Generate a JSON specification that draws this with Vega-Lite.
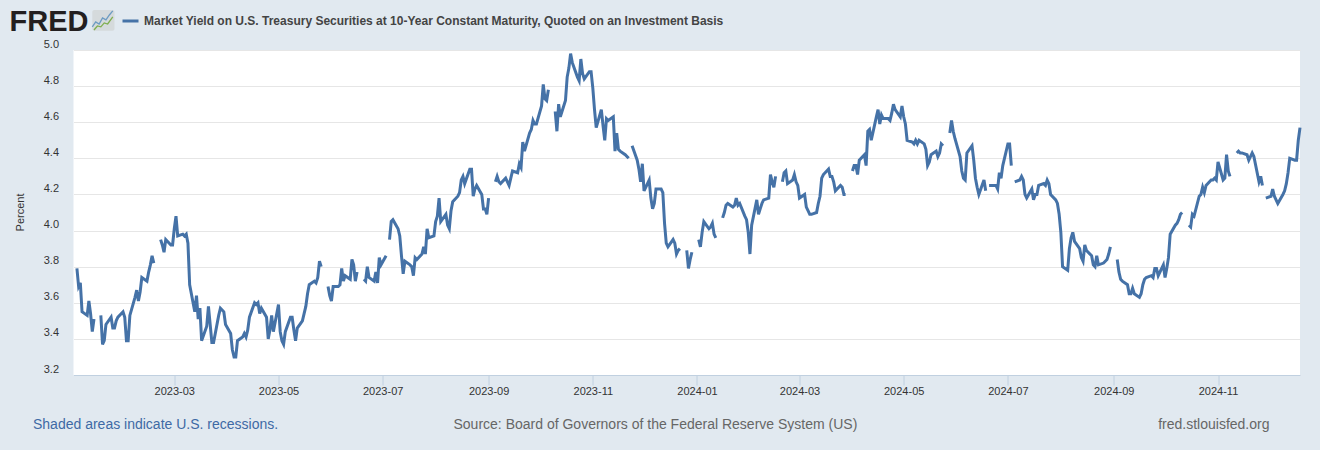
{"$schema":"https://vega.github.io/schema/vega-lite/v6.json","autosize":{"type":"none"},"padding":{"left":73.5,"top":50,"right":20,"bottom":75},"width":1226.5,"height":325,"background":"#e1e9f0","view":{"fill":"#ffffff","stroke":null},
"title":{"text":"FRED","anchor":"start","frame":"group","font":"Liberation Sans","fontSize":29,"fontWeight":"bold","color":"#231f20","dx":-64,"dy":52,"offset":0,"baseline":"alphabetic"},
"data":{"values":[
{"date":"2023-01-03","y":3.79},{"date":"2023-01-04","y":3.69},{"date":"2023-01-05","y":3.71},{"date":"2023-01-06","y":3.55},{"date":"2023-01-09","y":3.53},{"date":"2023-01-10","y":3.61},{"date":"2023-01-11","y":3.54},{"date":"2023-01-12","y":3.44},{"date":"2023-01-13","y":3.51},{"date":"2023-01-16","y":null},{"date":"2023-01-17","y":3.53},{"date":"2023-01-18","y":3.37},{"date":"2023-01-19","y":3.39},{"date":"2023-01-20","y":3.48},{"date":"2023-01-23","y":3.52},{"date":"2023-01-24","y":3.46},{"date":"2023-01-25","y":3.46},{"date":"2023-01-26","y":3.50},{"date":"2023-01-27","y":3.52},{"date":"2023-01-30","y":3.55},{"date":"2023-01-31","y":3.52},
{"date":"2023-02-01","y":3.39},{"date":"2023-02-02","y":3.39},{"date":"2023-02-03","y":3.53},{"date":"2023-02-06","y":3.63},{"date":"2023-02-07","y":3.67},{"date":"2023-02-08","y":3.61},{"date":"2023-02-09","y":3.66},{"date":"2023-02-10","y":3.74},{"date":"2023-02-13","y":3.72},{"date":"2023-02-14","y":3.77},{"date":"2023-02-15","y":3.81},{"date":"2023-02-16","y":3.86},{"date":"2023-02-17","y":3.82},{"date":"2023-02-20","y":null},{"date":"2023-02-21","y":3.95},{"date":"2023-02-22","y":3.92},{"date":"2023-02-23","y":3.88},{"date":"2023-02-24","y":3.95},{"date":"2023-02-27","y":3.92},{"date":"2023-02-28","y":3.92},
{"date":"2023-03-01","y":4.01},{"date":"2023-03-02","y":4.08},{"date":"2023-03-03","y":3.97},{"date":"2023-03-06","y":3.98},{"date":"2023-03-07","y":3.97},{"date":"2023-03-08","y":3.98},{"date":"2023-03-09","y":3.93},{"date":"2023-03-10","y":3.70},{"date":"2023-03-13","y":3.55},{"date":"2023-03-14","y":3.64},{"date":"2023-03-15","y":3.51},{"date":"2023-03-16","y":3.57},{"date":"2023-03-17","y":3.39},{"date":"2023-03-20","y":3.47},{"date":"2023-03-21","y":3.58},{"date":"2023-03-22","y":3.48},{"date":"2023-03-23","y":3.38},{"date":"2023-03-24","y":3.38},{"date":"2023-03-27","y":3.53},{"date":"2023-03-28","y":3.57},{"date":"2023-03-29","y":3.56},{"date":"2023-03-30","y":3.55},{"date":"2023-03-31","y":3.48},
{"date":"2023-04-03","y":3.43},{"date":"2023-04-04","y":3.34},{"date":"2023-04-05","y":3.30},{"date":"2023-04-06","y":3.30},{"date":"2023-04-07","y":3.39},{"date":"2023-04-10","y":3.41},{"date":"2023-04-11","y":3.43},{"date":"2023-04-12","y":3.41},{"date":"2023-04-13","y":3.45},{"date":"2023-04-14","y":3.52},{"date":"2023-04-17","y":3.60},{"date":"2023-04-18","y":3.59},{"date":"2023-04-19","y":3.60},{"date":"2023-04-20","y":3.54},{"date":"2023-04-21","y":3.57},{"date":"2023-04-24","y":3.52},{"date":"2023-04-25","y":3.40},{"date":"2023-04-26","y":3.45},{"date":"2023-04-27","y":3.53},{"date":"2023-04-28","y":3.44},
{"date":"2023-05-01","y":3.59},{"date":"2023-05-02","y":3.44},{"date":"2023-05-03","y":3.39},{"date":"2023-05-04","y":3.37},{"date":"2023-05-05","y":3.44},{"date":"2023-05-08","y":3.52},{"date":"2023-05-09","y":3.52},{"date":"2023-05-10","y":3.45},{"date":"2023-05-11","y":3.39},{"date":"2023-05-12","y":3.46},{"date":"2023-05-15","y":3.50},{"date":"2023-05-16","y":3.54},{"date":"2023-05-17","y":3.58},{"date":"2023-05-18","y":3.65},{"date":"2023-05-19","y":3.70},{"date":"2023-05-22","y":3.72},{"date":"2023-05-23","y":3.71},{"date":"2023-05-24","y":3.74},{"date":"2023-05-25","y":3.83},{"date":"2023-05-26","y":3.80},{"date":"2023-05-29","y":null},{"date":"2023-05-30","y":3.69},{"date":"2023-05-31","y":3.64},
{"date":"2023-06-01","y":3.61},{"date":"2023-06-02","y":3.69},{"date":"2023-06-05","y":3.69},{"date":"2023-06-06","y":3.70},{"date":"2023-06-07","y":3.79},{"date":"2023-06-08","y":3.72},{"date":"2023-06-09","y":3.75},{"date":"2023-06-12","y":3.73},{"date":"2023-06-13","y":3.84},{"date":"2023-06-14","y":3.81},{"date":"2023-06-15","y":3.72},{"date":"2023-06-16","y":3.77},{"date":"2023-06-19","y":null},{"date":"2023-06-20","y":3.73},{"date":"2023-06-21","y":3.72},{"date":"2023-06-22","y":3.80},{"date":"2023-06-23","y":3.74},{"date":"2023-06-26","y":3.72},{"date":"2023-06-27","y":3.77},{"date":"2023-06-28","y":3.71},{"date":"2023-06-29","y":3.85},{"date":"2023-06-30","y":3.81},
{"date":"2023-07-03","y":3.86},{"date":"2023-07-04","y":null},{"date":"2023-07-05","y":3.95},{"date":"2023-07-06","y":4.05},{"date":"2023-07-07","y":4.06},{"date":"2023-07-10","y":4.01},{"date":"2023-07-11","y":3.97},{"date":"2023-07-12","y":3.86},{"date":"2023-07-13","y":3.76},{"date":"2023-07-14","y":3.83},{"date":"2023-07-17","y":3.81},{"date":"2023-07-18","y":3.80},{"date":"2023-07-19","y":3.75},{"date":"2023-07-20","y":3.85},{"date":"2023-07-21","y":3.84},{"date":"2023-07-24","y":3.87},{"date":"2023-07-25","y":3.91},{"date":"2023-07-26","y":3.87},{"date":"2023-07-27","y":4.01},{"date":"2023-07-28","y":3.96},{"date":"2023-07-31","y":3.97},
{"date":"2023-08-01","y":4.05},{"date":"2023-08-02","y":4.08},{"date":"2023-08-03","y":4.18},{"date":"2023-08-04","y":4.05},{"date":"2023-08-07","y":4.09},{"date":"2023-08-08","y":4.03},{"date":"2023-08-09","y":4.01},{"date":"2023-08-10","y":4.11},{"date":"2023-08-11","y":4.16},{"date":"2023-08-14","y":4.19},{"date":"2023-08-15","y":4.21},{"date":"2023-08-16","y":4.28},{"date":"2023-08-17","y":4.30},{"date":"2023-08-18","y":4.26},{"date":"2023-08-21","y":4.34},{"date":"2023-08-22","y":4.34},{"date":"2023-08-23","y":4.19},{"date":"2023-08-24","y":4.23},{"date":"2023-08-25","y":4.25},{"date":"2023-08-28","y":4.20},{"date":"2023-08-29","y":4.12},{"date":"2023-08-30","y":4.12},{"date":"2023-08-31","y":4.09},
{"date":"2023-09-01","y":4.18},{"date":"2023-09-04","y":null},{"date":"2023-09-05","y":4.27},{"date":"2023-09-06","y":4.30},{"date":"2023-09-07","y":4.27},{"date":"2023-09-08","y":4.26},{"date":"2023-09-11","y":4.29},{"date":"2023-09-12","y":4.27},{"date":"2023-09-13","y":4.25},{"date":"2023-09-14","y":4.29},{"date":"2023-09-15","y":4.33},{"date":"2023-09-18","y":4.32},{"date":"2023-09-19","y":4.37},{"date":"2023-09-20","y":4.35},{"date":"2023-09-21","y":4.49},{"date":"2023-09-22","y":4.44},{"date":"2023-09-25","y":4.54},{"date":"2023-09-26","y":4.56},{"date":"2023-09-27","y":4.61},{"date":"2023-09-28","y":4.59},{"date":"2023-09-29","y":4.59},
{"date":"2023-10-02","y":4.69},{"date":"2023-10-03","y":4.81},{"date":"2023-10-04","y":4.73},{"date":"2023-10-05","y":4.72},{"date":"2023-10-06","y":4.78},{"date":"2023-10-09","y":null},{"date":"2023-10-10","y":4.66},{"date":"2023-10-11","y":4.55},{"date":"2023-10-12","y":4.70},{"date":"2023-10-13","y":4.63},{"date":"2023-10-16","y":4.72},{"date":"2023-10-17","y":4.85},{"date":"2023-10-18","y":4.90},{"date":"2023-10-19","y":4.98},{"date":"2023-10-20","y":4.93},{"date":"2023-10-23","y":4.85},{"date":"2023-10-24","y":4.83},{"date":"2023-10-25","y":4.95},{"date":"2023-10-26","y":4.87},{"date":"2023-10-27","y":4.84},{"date":"2023-10-30","y":4.88},{"date":"2023-10-31","y":4.88},
{"date":"2023-11-01","y":4.79},{"date":"2023-11-02","y":4.67},{"date":"2023-11-03","y":4.57},{"date":"2023-11-06","y":4.67},{"date":"2023-11-07","y":4.58},{"date":"2023-11-08","y":4.50},{"date":"2023-11-09","y":4.62},{"date":"2023-11-10","y":4.61},{"date":"2023-11-13","y":4.63},{"date":"2023-11-14","y":4.44},{"date":"2023-11-15","y":4.54},{"date":"2023-11-16","y":4.45},{"date":"2023-11-17","y":4.44},{"date":"2023-11-20","y":4.42},{"date":"2023-11-21","y":4.41},{"date":"2023-11-22","y":4.40},{"date":"2023-11-23","y":null},{"date":"2023-11-24","y":4.47},{"date":"2023-11-27","y":4.39},{"date":"2023-11-28","y":4.34},{"date":"2023-11-29","y":4.27},{"date":"2023-11-30","y":4.37},
{"date":"2023-12-01","y":4.22},{"date":"2023-12-04","y":4.28},{"date":"2023-12-05","y":4.18},{"date":"2023-12-06","y":4.12},{"date":"2023-12-07","y":4.15},{"date":"2023-12-08","y":4.23},{"date":"2023-12-11","y":4.23},{"date":"2023-12-12","y":4.21},{"date":"2023-12-13","y":4.04},{"date":"2023-12-14","y":3.93},{"date":"2023-12-15","y":3.91},{"date":"2023-12-18","y":3.95},{"date":"2023-12-19","y":3.93},{"date":"2023-12-20","y":3.87},{"date":"2023-12-21","y":3.89},{"date":"2023-12-22","y":3.90},{"date":"2023-12-25","y":null},{"date":"2023-12-26","y":3.89},{"date":"2023-12-27","y":3.79},{"date":"2023-12-28","y":3.84},{"date":"2023-12-29","y":3.88},{"date":"2024-01-01","y":null},
{"date":"2024-01-02","y":3.95},{"date":"2024-01-03","y":3.91},{"date":"2024-01-04","y":3.99},{"date":"2024-01-05","y":4.05},{"date":"2024-01-08","y":4.01},{"date":"2024-01-09","y":4.02},{"date":"2024-01-10","y":4.04},{"date":"2024-01-11","y":3.98},{"date":"2024-01-12","y":3.96},{"date":"2024-01-15","y":null},{"date":"2024-01-16","y":4.07},{"date":"2024-01-17","y":4.10},{"date":"2024-01-18","y":4.14},{"date":"2024-01-19","y":4.15},{"date":"2024-01-22","y":4.13},{"date":"2024-01-23","y":4.14},{"date":"2024-01-24","y":4.18},{"date":"2024-01-25","y":4.14},{"date":"2024-01-26","y":4.15},{"date":"2024-01-29","y":4.08},{"date":"2024-01-30","y":4.06},{"date":"2024-01-31","y":3.99},
{"date":"2024-02-01","y":3.87},{"date":"2024-02-02","y":4.03},{"date":"2024-02-05","y":4.17},{"date":"2024-02-06","y":4.09},{"date":"2024-02-07","y":4.12},{"date":"2024-02-08","y":4.15},{"date":"2024-02-09","y":4.17},{"date":"2024-02-12","y":4.18},{"date":"2024-02-13","y":4.31},{"date":"2024-02-14","y":4.27},{"date":"2024-02-15","y":4.24},{"date":"2024-02-16","y":4.30},{"date":"2024-02-19","y":null},{"date":"2024-02-20","y":4.27},{"date":"2024-02-21","y":4.32},{"date":"2024-02-22","y":4.33},{"date":"2024-02-23","y":4.26},{"date":"2024-02-26","y":4.28},{"date":"2024-02-27","y":4.31},{"date":"2024-02-28","y":4.27},{"date":"2024-02-29","y":4.25},
{"date":"2024-03-01","y":4.18},{"date":"2024-03-04","y":4.20},{"date":"2024-03-05","y":4.13},{"date":"2024-03-06","y":4.11},{"date":"2024-03-07","y":4.09},{"date":"2024-03-08","y":4.09},{"date":"2024-03-11","y":4.10},{"date":"2024-03-12","y":4.15},{"date":"2024-03-13","y":4.19},{"date":"2024-03-14","y":4.29},{"date":"2024-03-15","y":4.31},{"date":"2024-03-18","y":4.34},{"date":"2024-03-19","y":4.30},{"date":"2024-03-20","y":4.30},{"date":"2024-03-21","y":4.27},{"date":"2024-03-22","y":4.22},{"date":"2024-03-25","y":4.25},{"date":"2024-03-26","y":4.24},{"date":"2024-03-27","y":4.20},{"date":"2024-03-28","y":4.20},{"date":"2024-03-29","y":null},
{"date":"2024-04-01","y":4.33},{"date":"2024-04-02","y":4.36},{"date":"2024-04-03","y":4.36},{"date":"2024-04-04","y":4.31},{"date":"2024-04-05","y":4.39},{"date":"2024-04-08","y":4.42},{"date":"2024-04-09","y":4.36},{"date":"2024-04-10","y":4.55},{"date":"2024-04-11","y":4.56},{"date":"2024-04-12","y":4.50},{"date":"2024-04-15","y":4.63},{"date":"2024-04-16","y":4.67},{"date":"2024-04-17","y":4.59},{"date":"2024-04-18","y":4.64},{"date":"2024-04-19","y":4.62},{"date":"2024-04-22","y":4.62},{"date":"2024-04-23","y":4.61},{"date":"2024-04-24","y":4.65},{"date":"2024-04-25","y":4.70},{"date":"2024-04-26","y":4.67},{"date":"2024-04-29","y":4.63},{"date":"2024-04-30","y":4.69},
{"date":"2024-05-01","y":4.63},{"date":"2024-05-02","y":4.59},{"date":"2024-05-03","y":4.50},{"date":"2024-05-06","y":4.49},{"date":"2024-05-07","y":4.48},{"date":"2024-05-08","y":4.50},{"date":"2024-05-09","y":4.48},{"date":"2024-05-10","y":4.50},{"date":"2024-05-13","y":4.48},{"date":"2024-05-14","y":4.45},{"date":"2024-05-15","y":4.36},{"date":"2024-05-16","y":4.38},{"date":"2024-05-17","y":4.42},{"date":"2024-05-20","y":4.44},{"date":"2024-05-21","y":4.41},{"date":"2024-05-22","y":4.43},{"date":"2024-05-23","y":4.48},{"date":"2024-05-24","y":4.47},{"date":"2024-05-27","y":null},{"date":"2024-05-28","y":4.54},{"date":"2024-05-29","y":4.61},{"date":"2024-05-30","y":4.55},{"date":"2024-05-31","y":4.51},
{"date":"2024-06-03","y":4.41},{"date":"2024-06-04","y":4.33},{"date":"2024-06-05","y":4.29},{"date":"2024-06-06","y":4.28},{"date":"2024-06-07","y":4.43},{"date":"2024-06-10","y":4.47},{"date":"2024-06-11","y":4.39},{"date":"2024-06-12","y":4.29},{"date":"2024-06-13","y":4.24},{"date":"2024-06-14","y":4.20},{"date":"2024-06-17","y":4.28},{"date":"2024-06-18","y":4.22},{"date":"2024-06-19","y":null},{"date":"2024-06-20","y":4.25},{"date":"2024-06-21","y":4.25},{"date":"2024-06-24","y":4.25},{"date":"2024-06-25","y":4.23},{"date":"2024-06-26","y":4.32},{"date":"2024-06-27","y":4.29},{"date":"2024-06-28","y":4.36},
{"date":"2024-07-01","y":4.48},{"date":"2024-07-02","y":4.48},{"date":"2024-07-03","y":4.36},{"date":"2024-07-04","y":null},{"date":"2024-07-05","y":4.27},{"date":"2024-07-08","y":4.28},{"date":"2024-07-09","y":4.30},{"date":"2024-07-10","y":4.28},{"date":"2024-07-11","y":4.20},{"date":"2024-07-12","y":4.18},{"date":"2024-07-15","y":4.23},{"date":"2024-07-16","y":4.17},{"date":"2024-07-17","y":4.20},{"date":"2024-07-18","y":4.20},{"date":"2024-07-19","y":4.25},{"date":"2024-07-22","y":4.26},{"date":"2024-07-23","y":4.25},{"date":"2024-07-24","y":4.28},{"date":"2024-07-25","y":4.26},{"date":"2024-07-26","y":4.20},{"date":"2024-07-29","y":4.17},{"date":"2024-07-30","y":4.15},{"date":"2024-07-31","y":4.09},
{"date":"2024-08-01","y":3.99},{"date":"2024-08-02","y":3.80},{"date":"2024-08-05","y":3.78},{"date":"2024-08-06","y":3.90},{"date":"2024-08-07","y":3.96},{"date":"2024-08-08","y":3.99},{"date":"2024-08-09","y":3.94},{"date":"2024-08-12","y":3.90},{"date":"2024-08-13","y":3.85},{"date":"2024-08-14","y":3.83},{"date":"2024-08-15","y":3.92},{"date":"2024-08-16","y":3.89},{"date":"2024-08-19","y":3.86},{"date":"2024-08-20","y":3.81},{"date":"2024-08-21","y":3.80},{"date":"2024-08-22","y":3.86},{"date":"2024-08-23","y":3.81},{"date":"2024-08-26","y":3.82},{"date":"2024-08-27","y":3.83},{"date":"2024-08-28","y":3.84},{"date":"2024-08-29","y":3.87},{"date":"2024-08-30","y":3.91},{"date":"2024-09-02","y":null},
{"date":"2024-09-03","y":3.84},{"date":"2024-09-04","y":3.77},{"date":"2024-09-05","y":3.73},{"date":"2024-09-06","y":3.72},{"date":"2024-09-09","y":3.70},{"date":"2024-09-10","y":3.65},{"date":"2024-09-11","y":3.65},{"date":"2024-09-12","y":3.68},{"date":"2024-09-13","y":3.65},{"date":"2024-09-16","y":3.63},{"date":"2024-09-17","y":3.65},{"date":"2024-09-18","y":3.70},{"date":"2024-09-19","y":3.73},{"date":"2024-09-20","y":3.74},{"date":"2024-09-23","y":3.75},{"date":"2024-09-24","y":3.74},{"date":"2024-09-25","y":3.79},{"date":"2024-09-26","y":3.79},{"date":"2024-09-27","y":3.75},{"date":"2024-09-30","y":3.81},
{"date":"2024-10-01","y":3.74},{"date":"2024-10-02","y":3.79},{"date":"2024-10-03","y":3.85},{"date":"2024-10-04","y":3.98},{"date":"2024-10-07","y":4.03},{"date":"2024-10-08","y":4.04},{"date":"2024-10-09","y":4.06},{"date":"2024-10-10","y":4.09},{"date":"2024-10-11","y":4.10},{"date":"2024-10-14","y":null},{"date":"2024-10-15","y":4.03},{"date":"2024-10-16","y":4.02},{"date":"2024-10-17","y":4.09},{"date":"2024-10-18","y":4.08},{"date":"2024-10-21","y":4.19},{"date":"2024-10-22","y":4.20},{"date":"2024-10-23","y":4.24},{"date":"2024-10-24","y":4.21},{"date":"2024-10-25","y":4.25},{"date":"2024-10-28","y":4.28},{"date":"2024-10-29","y":4.28},{"date":"2024-10-30","y":4.29},{"date":"2024-10-31","y":4.28},
{"date":"2024-11-01","y":4.38},{"date":"2024-11-04","y":4.28},{"date":"2024-11-05","y":4.29},{"date":"2024-11-06","y":4.42},{"date":"2024-11-07","y":4.33},{"date":"2024-11-08","y":4.30},{"date":"2024-11-11","y":null},{"date":"2024-11-12","y":4.43},{"date":"2024-11-13","y":4.44},{"date":"2024-11-14","y":4.43},{"date":"2024-11-15","y":4.43},{"date":"2024-11-18","y":4.42},{"date":"2024-11-19","y":4.39},{"date":"2024-11-20","y":4.41},{"date":"2024-11-21","y":4.43},{"date":"2024-11-22","y":4.41},{"date":"2024-11-25","y":4.27},{"date":"2024-11-26","y":4.30},{"date":"2024-11-27","y":4.25},{"date":"2024-11-28","y":null},{"date":"2024-11-29","y":4.18},
{"date":"2024-12-02","y":4.19},{"date":"2024-12-03","y":4.23},{"date":"2024-12-04","y":4.19},{"date":"2024-12-05","y":4.17},{"date":"2024-12-06","y":4.15},{"date":"2024-12-09","y":4.20},{"date":"2024-12-10","y":4.22},{"date":"2024-12-11","y":4.26},{"date":"2024-12-12","y":4.32},{"date":"2024-12-13","y":4.40},{"date":"2024-12-16","y":4.39},{"date":"2024-12-17","y":4.39},{"date":"2024-12-18","y":4.50},{"date":"2024-12-19","y":4.57}
]},
"encoding":{
"x":{"field":"date","type":"temporal","scale":{"type":"utc","domain":[{"year":2023,"month":1,"date":1,"utc":true},{"year":2024,"month":12,"date":19,"utc":true}]}},
"y":{"field":"y","type":"quantitative","scale":{"domain":[3.2,5.0],"nice":false,"zero":false}}
},
"layer":[
{"mark":{"type":"line","strokeWidth":3,"strokeJoin":"miter","interpolate":"linear"},
"encoding":{
"color":{"datum":"Market Yield on U.S. Treasury Securities at 10-Year Constant Maturity, Quoted on an Investment Basis","scale":{"range":["#4572a7"]},"legend":{"title":null,"orient":"none","legendX":47.5,"legendY":-38.5,"symbolType":"stroke","symbolSize":256,"symbolStrokeWidth":3,"labelFont":"Liberation Sans","labelFontSize":12,"labelFontWeight":"bold","labelColor":"#444444","labelLimit":800,"labelOffset":4}},
"x":{"field":"date","type":"temporal","axis":{"orient":"bottom","values":[{"year":2023,"month":3,"date":1,"utc":true},{"year":2023,"month":5,"date":1,"utc":true},{"year":2023,"month":7,"date":1,"utc":true},{"year":2023,"month":9,"date":1,"utc":true},{"year":2023,"month":11,"date":1,"utc":true},{"year":2024,"month":1,"date":1,"utc":true},{"year":2024,"month":3,"date":1,"utc":true},{"year":2024,"month":5,"date":1,"utc":true},{"year":2024,"month":7,"date":1,"utc":true},{"year":2024,"month":9,"date":1,"utc":true},{"year":2024,"month":11,"date":1,"utc":true}],"labelExpr":"utcFormat(datum.value,'%Y-%m')","grid":false,"domainColor":"#c0d0e0","tickColor":"#c0d0e0","tickSize":10,"labelFont":"Liberation Sans","labelFontSize":11,"labelColor":"#333333","labelPadding":0,"title":"Source: Board of Governors of the Federal Reserve System (US)","titleFont":"Liberation Sans","titleFontSize":14,"titleFontWeight":"normal","titleColor":"#666666","titleX":379.5,"titleY":49,"titleAlign":"left","titleBaseline":"middle","titleAnchor":null}},
"y":{"field":"y","type":"quantitative","axis":{"orient":"left","values":[3.2,3.4,3.6,3.8,4.0,4.2,4.4,4.6,4.8,5.0],"format":".1f","grid":true,"gridColor":"#e6e6e6","gridWidth":1,"domain":false,"ticks":false,"labelFont":"Liberation Sans","labelFontSize":11,"labelColor":"#333333","labelPadding":15,"labelOffset":-6,"labelBaseline":"middle","title":"Percent","titleFont":"Liberation Sans","titleFontSize":11,"titleFontWeight":"normal","titleColor":"#333333","titleX":-53.5,"titleY":162,"titleAngle":-90,"titleAlign":"center","titleBaseline":"middle"}}
}},
{"mark":{"type":"line","opacity":0},
"encoding":{
"x":{"field":"date","type":"temporal","axis":{"orient":"top","domain":false,"ticks":false,"labels":false,"grid":false,"title":"Shaded areas indicate U.S. recessions.","titleFont":"Liberation Sans","titleFontSize":14,"titleFontWeight":"normal","titleColor":"#3e6aa5","titleX":-41,"titleY":374,"titleAlign":"left","titleBaseline":"middle"}},
"y":{"field":"y","type":"quantitative","axis":{"orient":"right","domain":false,"ticks":false,"labels":false,"grid":false,"title":"fred.stlouisfed.org","titleFont":"Liberation Sans","titleFontSize":14,"titleFontWeight":"normal","titleColor":"#666666","titleX":-31,"titleY":374,"titleAngle":0,"titleAlign":"right","titleBaseline":"middle"}}
}},
{"data":{"values":[{"date":"2023-01-12","end":"2023-01-25","y":5.106,"top":5.222}]},
"mark":{"type":"rect","fill":"#d5dadc","cornerRadius":2,"clip":false},
"encoding":{"x":{"field":"date","type":"temporal","axis":null},"x2":{"field":"end"},"y":{"field":"y","type":"quantitative","axis":null},"y2":{"field":"top"}}},
{"data":{"values":[{"date":"2023-01-12","y":5.128},{"date":"2023-01-14","y":5.156},{"date":"2023-01-16","y":5.144},{"date":"2023-01-18","y":5.178},{"date":"2023-01-20","y":5.167},{"date":"2023-01-22","y":5.194},{"date":"2023-01-24","y":5.217}]},
"mark":{"type":"line","stroke":"#6c9bc2","strokeWidth":1.3,"clip":false},
"encoding":{"x":{"field":"date","type":"temporal","axis":null},"y":{"field":"y","type":"quantitative","axis":null}}},
{"data":{"values":[{"date":"2023-01-13","y":5.111},{"date":"2023-01-15","y":5.133},{"date":"2023-01-17","y":5.128},{"date":"2023-01-19","y":5.15},{"date":"2023-01-21","y":5.144},{"date":"2023-01-24","y":5.183}]},
"mark":{"type":"line","stroke":"#7fae4f","strokeWidth":1.3,"clip":false},
"encoding":{"x":{"field":"date","type":"temporal","axis":null},"y":{"field":"y","type":"quantitative","axis":null}}}
],
"resolve":{"axis":{"x":"independent","y":"independent"}}
}
